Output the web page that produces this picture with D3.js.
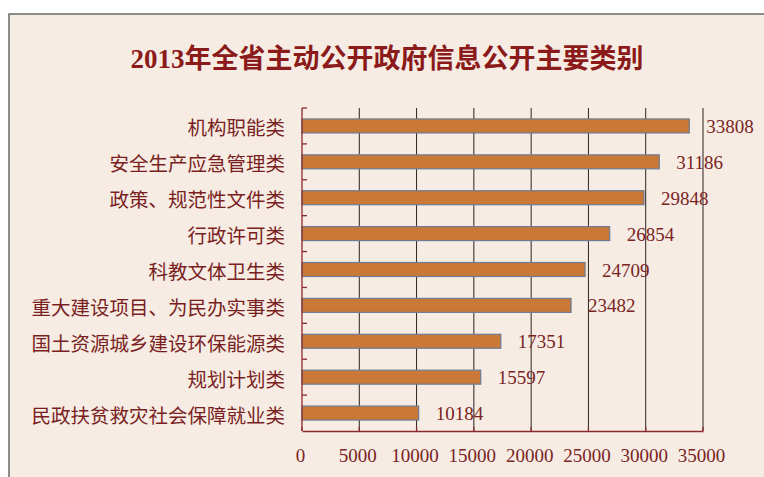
<!DOCTYPE html>
<html>
<head>
<meta charset="utf-8">
<script src="https://cdn.jsdelivr.net/npm/d3@7/dist/d3.min.js"></script>
<style>
  html, body { margin: 0; padding: 0; background: #ffffff; }
  svg { display: block; }
</style>
</head>
<body>
<svg id="chart" width="764" height="477"></svg>
<script>
const title = "2013年全省主动公开政府信息公开主要类别";
const categories = [
  "机构职能类",
  "安全生产应急管理类",
  "政策、规范性文件类",
  "行政许可类",
  "科教文体卫生类",
  "重大建设项目、为民办实事类",
  "国土资源城乡建设环保能源类",
  "规划计划类",
  "民政扶贫救灾社会保障就业类"
];
const values = [33808, 31186, 29848, 26854, 24709, 23482, 17351, 15597, 10184];
const xTicks = [0, 5000, 10000, 15000, 20000, 25000, 30000, 35000];

const svg = d3.select("#chart");
const W = 764, H = 477;

// frame
svg.append("rect").attr("x", 9).attr("y", 14).attr("width", W).attr("height", H)
  .attr("fill", "#f6ece3").attr("stroke", "#6a6a6a").attr("stroke-width", 1.5);

const plot = { left: 302, right: 703, top: 108, bottom: 431 };
const x = d3.scaleLinear().domain([0, 35000]).range([plot.left, plot.right]);
const y = d3.scaleBand().domain(categories).range([plot.top, plot.bottom]).padding(0);

// title
svg.append("text").attr("x", 387).attr("y", 68)
  .attr("text-anchor", "middle")
  .attr("font-family", "'Liberation Serif', 'Noto Sans CJK SC', serif")
  .attr("font-weight", "bold").attr("font-size", 27)
  .attr("fill", "#8b1a1a").text(title);

// gridlines
svg.append("g").selectAll("line").data(xTicks.slice(1)).join("line")
  .attr("x1", d => x(d)).attr("x2", d => x(d))
  .attr("y1", plot.top).attr("y2", plot.bottom)
  .attr("stroke", "#2a2222").attr("stroke-width", 1);

// bars
const bh = y.bandwidth() * 0.39;
svg.append("g").selectAll("rect").data(categories).join("rect")
  .attr("x", x(0))
  .attr("y", (d) => y(d) + (y.bandwidth() - bh) / 2)
  .attr("width", (d, i) => x(values[i]) - x(0))
  .attr("height", bh)
  .attr("fill", "#c97838")
  .attr("stroke", "#6e7d94").attr("stroke-width", 1.2);

// left axis
const axisColor = "#8b2a2a";
svg.append("line").attr("x1", plot.left).attr("x2", plot.left)
  .attr("y1", plot.top).attr("y2", plot.bottom)
  .attr("stroke", axisColor).attr("stroke-width", 1.3);
const bounds = categories.map(c => y(c));
svg.append("g").selectAll("line").data(bounds).join("line")
  .attr("x1", plot.left).attr("x2", plot.left + 5)
  .attr("y1", d => d).attr("y2", d => d)
  .attr("stroke", axisColor).attr("stroke-width", 1.3);

// bottom axis
const xAxis = d3.axisBottom(x).tickValues(xTicks).tickSize(0).tickPadding(18)
  .tickFormat(d3.format("d"));
const gx = svg.append("g").attr("transform", `translate(0,${plot.bottom})`).call(xAxis);
gx.select(".domain").attr("stroke", axisColor).attr("stroke-width", 1.3);
gx.selectAll("text")
  .attr("font-family", "'Liberation Serif', serif")
  .attr("font-size", 19).attr("fill", "#7a2424").attr("dx", -2);
svg.append("g").selectAll("line").data(xTicks).join("line")
  .attr("x1", d => x(d)).attr("x2", d => x(d))
  .attr("y1", plot.bottom - 4).attr("y2", plot.bottom)
  .attr("stroke", axisColor).attr("stroke-width", 1.3);

// category labels
svg.append("g").selectAll("text").data(categories).join("text")
  .attr("x", 285).attr("y", d => y(d) + y.bandwidth() / 2 + 1)
  .attr("text-anchor", "end").attr("dominant-baseline", "central")
  .attr("font-family", "'Noto Sans CJK SC', sans-serif")
  .attr("font-size", 19.5).attr("fill", "#7a1f1f").text(d => d);

// value labels
svg.append("g").selectAll("text").data(categories).join("text")
  .attr("x", (d, i) => x(values[i]) + 17)
  .attr("y", d => y(d) + y.bandwidth() / 2 + 7)
  .attr("font-family", "'Liberation Serif', serif")
  .attr("font-size", 19).attr("fill", "#7a2424")
  .text((d, i) => values[i]);
</script>
</body>
</html>
